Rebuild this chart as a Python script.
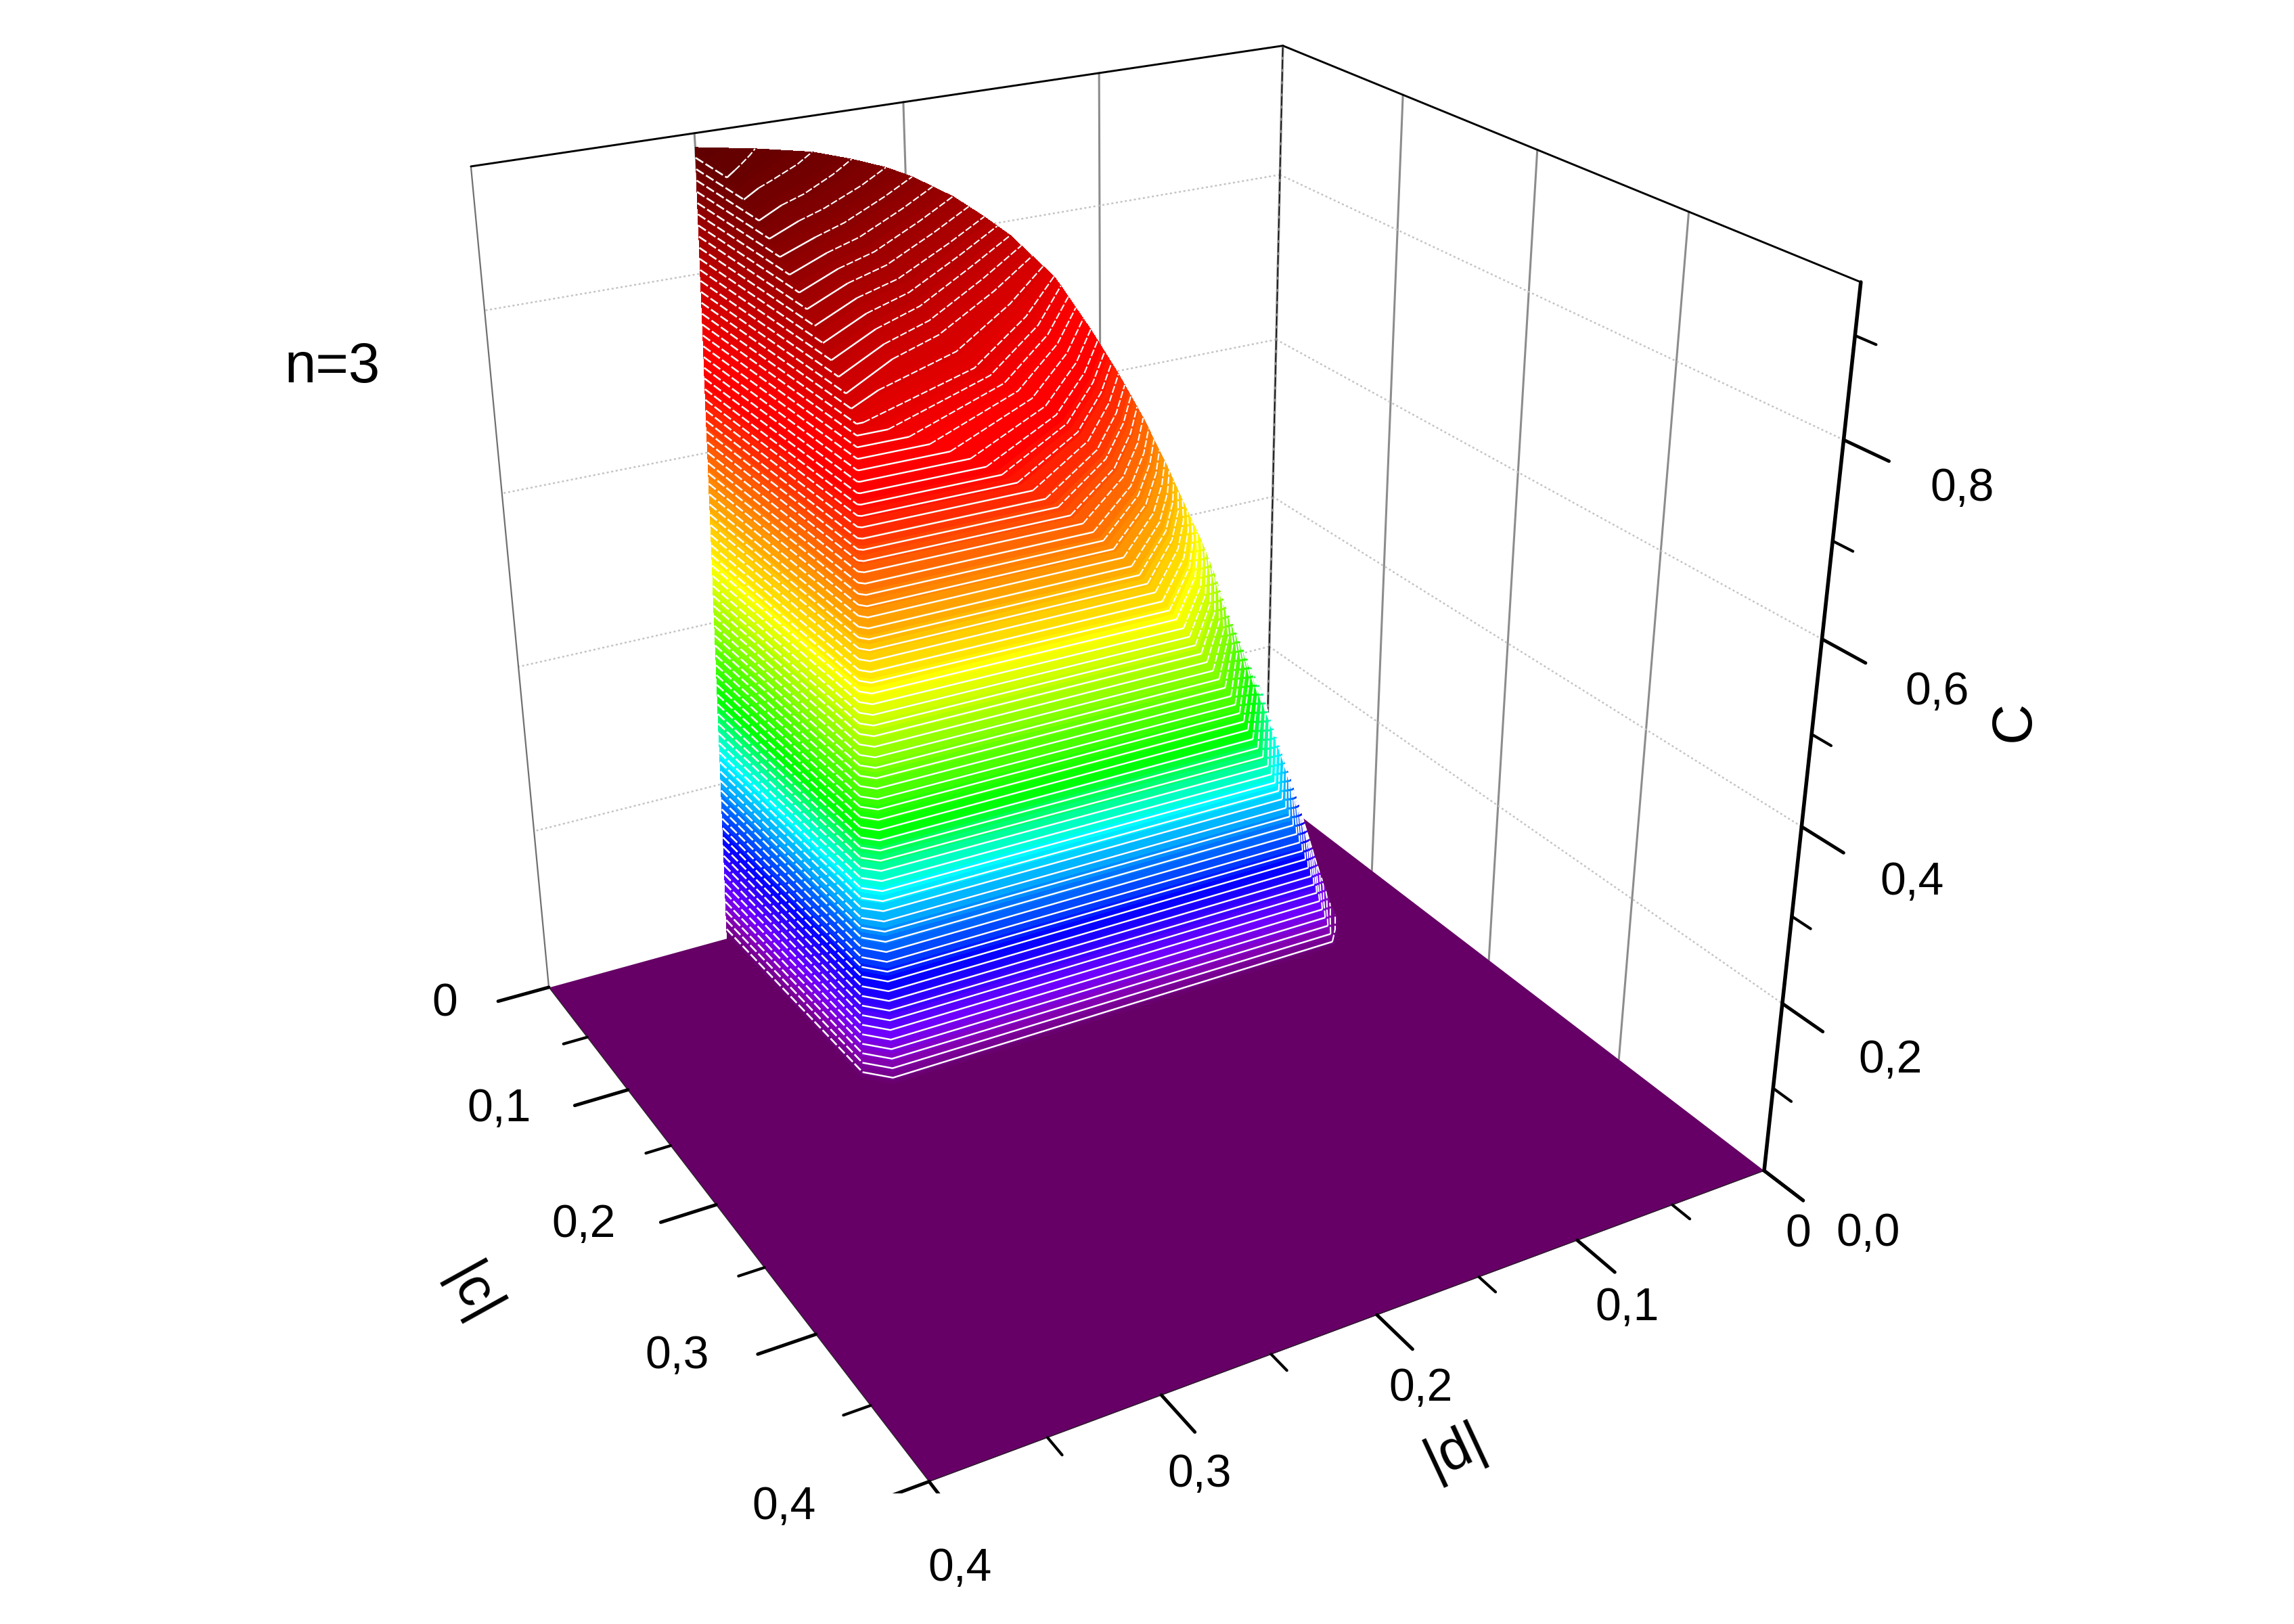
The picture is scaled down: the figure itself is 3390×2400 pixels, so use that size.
import numpy as np, seaborn as sns, matplotlib
matplotlib.use('Agg')
import matplotlib.pyplot as plt
from matplotlib.colors import LinearSegmentedColormap

# ---- data -----------------------------------------------------------------
# Surface C(|c|,|d|): for each C level, the |c| and |d| of seven points along that level's line
C_levels = [0, .024, .072, .12, .168, .216, .264, .312, .36, .408, .456, .504, .552, .60, .648,
            .696, .744, .756, .78, .804, .828, .852, .876, .888, .90, .912, .924, .935]
c_table = [
 [0, .146, .157, .155, .148, .142, .138],
 [0, .1463, .157, .156, .145, .136, .131],
 [0, .1469, .157, .156, .137, .124, .115],
 [0, .1474, .157, .156, .131, .114, .101],
 [0, .148, .157, .156, .127, .106, .091],
 [0, .1486, .156, .155, .122, .098, .083],
 [0, .1491, .156, .156, .116, .091, .073],
 [0, .1497, .156, .154, .116, .091, .073],
 [0, .1503, .156, .155, .118, .094, .077],
 [0, .1509, .156, .155, .120, .095, .077],
 [0, .1514, .156, .156, .121, .096, .077],
 [0, .152, .156, .155, .119, .092, .071],
 [0, .1526, .156, .155, .119, .091, .068],
 [0, .1531, .155, .155, .118, .086, .060],
 [0, .1537, .155, .155, .117, .081, .051],
 [0, .1543, .155, .155, .117, .076, .041],
 [0, .1549, .155, .155, .120, .074, .032],
 [0, .155, .155, .155, .121, .074, .032],
 [0, .146, .146, .119, .102, .063, .028],
 [0, .133, .133, .108, .091, .055, .024],
 [0, .118, .118, .095, .081, .049, .022],
 [0, .104, .104, .084, .071, .042, .017],
 [0, .086, .086, .069, .057, .032, .011],
 [0, .076, .076, .060, .049, .027, .0075],
 [0, .066, .066, .051, .041, .021, .004],
 [0, .051, .051, .039, .031, .015, .001],
 [0, .034, .034, .026, .019, .008, 0],
 [0, 0, 0, 0, 0, 0, 0],
]
d_table = [
 [.309, .306, .296, .059, .051, .047, .044],
 [.3088, .3058, .2961, .062, .055, .049, .046],
 [.3083, .3054, .2964, .069, .058, .050, .046],
 [.3078, .3050, .2966, .076, .061, .052, .046],
 [.3074, .3047, .2969, .083, .066, .055, .049],
 [.3069, .3043, .2971, .091, .069, .059, .053],
 [.3065, .3039, .2974, .100, .074, .062, .056],
 [.306, .3035, .2977, .110, .083, .071, .064],
 [.3055, .3031, .2979, .120, .094, .081, .074],
 [.3051, .3028, .2982, .133, .105, .090, .081],
 [.3046, .3024, .2984, .146, .116, .100, .089],
 [.3041, .302, .2987, .160, .127, .108, .096],
 [.3037, .3016, .2989, .176, .140, .119, .104],
 [.3032, .3012, .2992, .196, .155, .129, .111],
 [.3028, .3009, .2994, .220, .172, .141, .119],
 [.3023, .3005, .2997, .249, .193, .155, .128],
 [.3018, .3001, .2999, .286, .221, .173, .1385],
 [.3017, .30, .30, .297, .229, .179, .142],
 [.3015, .30, .30, .266, .236, .189, .151],
 [.3013, .30, .30, .268, .239, .196, .160],
 [.301, .30, .30, .270, .244, .204, .172],
 [.3008, .30, .30, .273, .250, .214, .185],
 [.3006, .30, .30, .276, .257, .226, .202],
 [.3005, .30, .30, .2795, .2625, .2345, .2131],
 [.3003, .30, .30, .283, .268, .245, .228],
 [.3002, .30, .30, .288, .278, .259, .2455],
 [.3001, .30, .30, .293, .287, .278, .272],
 [.30, .30, .30, .30, .30, .30, .30],
]
floor_axis = [0, .4]
floor_level = [[0, 0], [0, 0]]
major_xy = [0, .1, .2, .3, .4]
minor_xy = [.05, .15, .25, .35]
major_z = [0, .2, .4, .6, .8]
minor_z = [.1, .3, .5, .7, .9]
z_top = .95
line_step = .012
n_lines = 77

c_labels = ['0', '0,1', '0,2', '0,3', '0,4']
d_labels = ['0', '0,1', '0,2', '0,3', '0,4']
z_labels = ['0,0', '0,2', '0,4', '0,6', '0,8']
# label centres, in reference pixels of the 1568-wide view
c_label_xy = [(304, 686), (341, 758), (399, 837), (463, 927), (536, 1030)]
d_label_xy = [(1229, 844), (1112, 894), (971, 949), (820, 1008), (656, 1072)]
z_label_xy = [(1277, 843), (1292, 725), (1307, 603), (1324, 473), (1341, 334)]

cmap_stops = [(0, '#660066'), (.03, '#8800bb'), (.065, '#7000ff'), (.13, '#0000ff'), (.24, '#00ffff'),
              (.31, '#00ff00'), (.47, '#ffff00'), (.68, '#ff0000'), (.72, '#ff0000'), (.935, '#600000')]

# ---- figure ---------------------------------------------------------------
sns.set_theme(style='white')
plt.rcParams['font.family'] = ['Liberation Sans', 'DejaVu Sans']
W, H = 3390, 2400
L, tx, ty = 2352.4, 458.2, 192.6
fig = plt.figure(figsize=(W / 100, H / 100), dpi=100, facecolor='white')
ax = fig.add_axes([tx / W, ty / H, L / W, L / H], projection='3d', computed_zorder=False)
ax.set_xlim(0, .4); ax.set_ylim(0, .4); ax.set_zlim(0, z_top)
ax.view_init(25.8799, 60.1347, -.0275)
ax.set_proj_type('persp', focal_length=.3594)
ax.set_box_aspect((1.0012, 1.0045, .9992))
ax.set_axis_off()

cmap = LinearSegmentedColormap.from_list('cz', [(v / .935, col) for v, col in cmap_stops])
C = np.array(c_table); D = np.array(d_table)
Zl = np.array(C_levels)
Z = np.repeat(Zl[:, None], C.shape[1], axis=1)

# walls: solid verticals, dotted horizontals
for v in major_xy[1:4]:
    ax.plot([v, v], [0, 0], [0, z_top], color='#8c8c8c', lw=2.2, zorder=1)
    ax.plot([0, 0], [v, v], [0, z_top], color='#8c8c8c', lw=2.2, zorder=1)
for z in major_z[1:]:
    ax.plot([0, .4], [0, 0], [z, z], color='#c4c4c4', lw=1.8, ls=(0, (1.2, 1.5)), zorder=1)
    ax.plot([0, 0], [0, .4], [z, z], color='#c4c4c4', lw=1.8, ls=(0, (1.2, 1.5)), zorder=1)
ax.plot([.4, .4], [0, 0], [0, z_top], color='#707070', lw=1.6, zorder=1)
ax.plot([0, 0], [0, 0], [0, z_top], color='#8c8c8c', lw=2.6, zorder=1)
ax.plot([0, 0], [0, 0], [0, z_top], color='black', lw=1.0, zorder=1, ls=(0, (10, 3)))
ax.plot([.4, 0, 0], [0, 0, .4], [z_top, z_top, z_top], color='black', lw=2.1, zorder=1)

# floor
ax.plot_surface(*np.meshgrid(floor_axis, floor_axis), np.array(floor_level), color='#660066',
                shade=False, antialiased=False, linewidth=0, zorder=2)

# surface; each typed row band is split only so that the colour runs smoothly between levels
sub = 5
t = np.arange(0, len(Zl) - 1 + 1e-9, 1 / sub)
i0 = np.minimum(t.astype(int), len(Zl) - 2); a = (t - i0)[:, None]
Cf = C[i0] * (1 - a) + C[i0 + 1] * a
Df = D[i0] * (1 - a) + D[i0 + 1] * a
Zf = Z[i0] * (1 - a) + Z[i0 + 1] * a
fc = cmap(((Zf[:-1, :-1] + Zf[1:, 1:]) / 2) / .935)
ax.plot_surface(Df, Cf, Zf, facecolors=fc, rstride=1, cstride=1, shade=False,
                antialiased=False, linewidth=0, zorder=3)

# white level lines
levels = line_step * np.arange(1, n_lines + 1) + 1e-4
ax.contour(D[:, :2], C[:, :2], Z[:, :2], levels=levels, colors='white', linewidths=1.9,
           linestyles=[(0, (5, 1.5))], zorder=4)
ax.contour(D[:, 1:4], C[:, 1:4], Z[:, 1:4], levels=levels, colors='white', linewidths=1.8,
           linestyles='solid', zorder=4)
ax.contour(D[:, 3:], C[:, 3:], Z[:, 3:], levels=levels, colors='white', linewidths=1.5,
           linestyles=[(0, (5, 1.5))], zorder=4)

# axes lines and ticks
tick_major, tick_minor = .025, .0115
ax.plot([0, 0], [.4, .4], [0, z_top], color='black', lw=4.0, zorder=6)
ax.plot([.4, .4], [0, .4], [0, 0], color='#222222', lw=.9, zorder=5)
ax.plot([0, .4], [.4, .4], [0, 0], color='#222222', lw=.9, zorder=5)
for v in major_xy:
    ax.plot([.4, .4 + tick_major], [v, v], [0, 0], color='black', lw=3.6, zorder=5)
    ax.plot([v, v], [.4, .4 + tick_major], [0, 0], color='black', lw=3.6, zorder=5)
for v in minor_xy:
    ax.plot([.4, .4 + tick_minor], [v, v], [0, 0], color='black', lw=3.0, zorder=5)
    ax.plot([v, v], [.4, .4 + tick_minor], [0, 0], color='black', lw=3.0, zorder=5)
for v in major_z:
    ax.plot([0, 0], [.4, .4 + tick_major], [v, v], color='black', lw=3.6, zorder=5)
for v in minor_z:
    ax.plot([0, 0], [.4, .4 + tick_minor], [v, v], color='black', lw=3.0, zorder=5)

# texts
k = W / 1568
def put(x, y, s, **kw):
    fig.text(x * k / W, 1 - y * k / H, s, ha='center', va='center', color='black', **kw)
for labs, xy in ((c_labels, c_label_xy), (d_labels, d_label_xy), (z_labels, z_label_xy)):
    for s, (x, y) in zip(labs, xy):
        put(x, y, s, fontsize=49)
put(227, 251, 'n=3', fontsize=60)
put(322, 885, '|c|', fontsize=60, rotation=-61)
put(995, 992, '|d|', fontsize=60, rotation=25)
put(1377, 493, 'C', fontsize=60, rotation=90)

fig.savefig('out.png', dpi=100)
